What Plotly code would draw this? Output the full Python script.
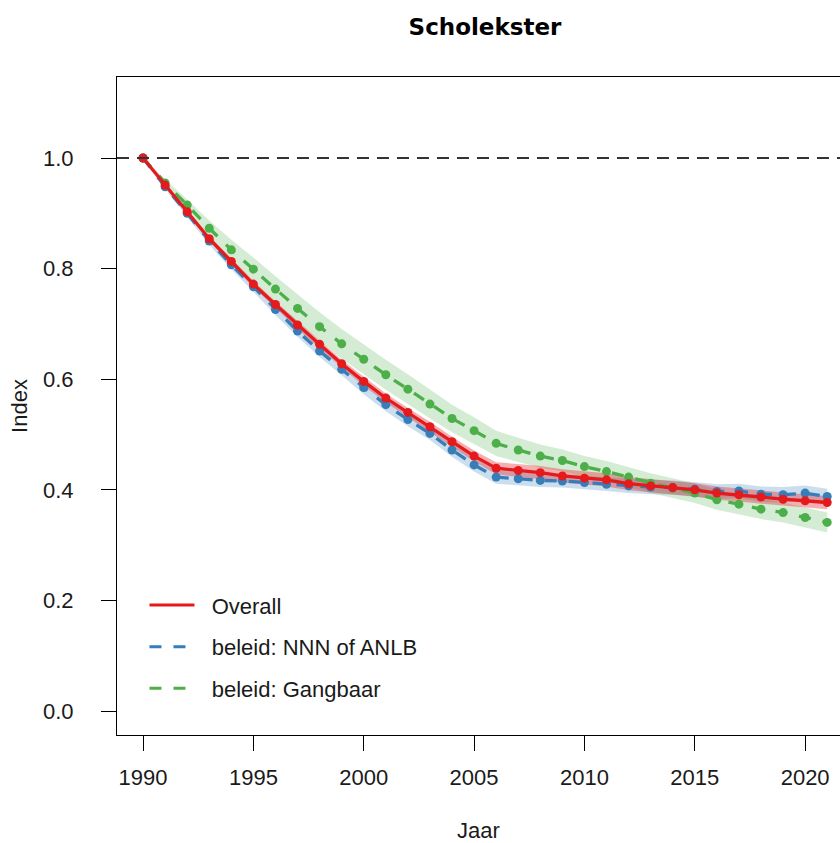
import plotly.graph_objects as go

years = list(range(1990, 2022))

overall = [1.000, 0.951, 0.903, 0.854, 0.813, 0.772, 0.735, 0.698, 0.663, 0.628,
           0.596, 0.566, 0.540, 0.514, 0.487, 0.461, 0.439, 0.435, 0.431, 0.425,
           0.421, 0.418, 0.411, 0.407, 0.404, 0.400, 0.394, 0.391, 0.387, 0.383,
           0.380, 0.377]
overall_ci = [0.000, 0.003, 0.004, 0.005, 0.005, 0.006, 0.006, 0.007, 0.007, 0.007,
              0.008, 0.008, 0.008, 0.009, 0.009, 0.010, 0.011, 0.011, 0.012, 0.012,
              0.012, 0.012, 0.012, 0.012, 0.012, 0.012, 0.012, 0.012, 0.012, 0.012,
              0.012, 0.012]

nnn = [1.000, 0.948, 0.900, 0.850, 0.807, 0.767, 0.726, 0.687, 0.651, 0.618,
       0.585, 0.554, 0.527, 0.502, 0.472, 0.445, 0.423, 0.420, 0.417, 0.416,
       0.413, 0.410, 0.407, 0.405, 0.404, 0.401, 0.397, 0.398, 0.392, 0.391,
       0.394, 0.388]
nnn_ci = [0.000, 0.004, 0.006, 0.007, 0.008, 0.009, 0.010, 0.010, 0.011, 0.011,
          0.012, 0.012, 0.012, 0.012, 0.012, 0.012, 0.012, 0.012, 0.012, 0.012,
          0.012, 0.012, 0.013, 0.013, 0.013, 0.013, 0.013, 0.013, 0.014, 0.014,
          0.014, 0.014]

gang = [1.000, 0.955, 0.915, 0.873, 0.834, 0.799, 0.763, 0.728, 0.695, 0.664,
        0.636, 0.608, 0.582, 0.555, 0.529, 0.507, 0.484, 0.472, 0.461, 0.453,
        0.442, 0.433, 0.423, 0.412, 0.403, 0.394, 0.382, 0.374, 0.365, 0.359,
        0.350, 0.341]
gang_ci = [0.000, 0.006, 0.010, 0.014, 0.018, 0.021, 0.023, 0.025, 0.026, 0.027,
           0.027, 0.027, 0.027, 0.026, 0.025, 0.024, 0.023, 0.022, 0.021, 0.020,
           0.019, 0.019, 0.018, 0.018, 0.018, 0.018, 0.018, 0.018, 0.018, 0.018,
           0.018, 0.018]

x_ticks = [1990, 1995, 2000, 2005, 2010, 2015, 2020]
y_ticks = [0.0, 0.2, 0.4, 0.6, 0.8, 1.0]

RED = "#E41A1C"
BLUE = "#377EB8"
GREEN = "#4DAF4A"

series = [
    ("beleid: Gangbaar", gang, gang_ci, GREEN, "rgba(77,175,74,0.24)", "12px,12px"),
    ("beleid: NNN of ANLB", nnn, nnn_ci, BLUE, "rgba(55,126,184,0.26)", "12px,12px"),
    ("Overall", overall, overall_ci, RED, "rgba(228,26,28,0.35)", "solid"),
]

fig = go.Figure()

# confidence bands
for name, vals, ci, col, fillcol, dash in series:
    lo = [v - c for v, c in zip(vals, ci)]
    hi = [v + c for v, c in zip(vals, ci)]
    fig.add_trace(go.Scatter(
        x=years + years[::-1], y=hi + lo[::-1], fill="toself",
        fillcolor=fillcol, line=dict(width=0), mode="lines",
        hoverinfo="skip", showlegend=False))

# lines with markers
for name, vals, ci, col, fillcol, dash in series:
    fig.add_trace(go.Scatter(
        x=years, y=vals, mode="lines+markers",
        line=dict(color=col, width=3.3, dash=dash),
        marker=dict(color=col, size=9),
        showlegend=False, name=name))

# legend entries (line only)
NB = "\u00a0" * 2
for i, (name, vals, ci, col, fillcol, dash) in enumerate(reversed(series)):
    fig.add_trace(go.Scatter(
        x=[None], y=[None], mode="lines", name=NB + name,
        line=dict(color=col, width=3, dash=dash),
        legendgroup=f"g{i}", showlegend=True))

# reference line at 1.0
fig.add_hline(y=1.0, line=dict(color="#333333", width=1.8, dash="12px,8px"))

fig.update_layout(
    width=840, height=843,
    margin=dict(l=117, r=0, t=77, b=108),
    paper_bgcolor="white", plot_bgcolor="white",
    font=dict(family="Liberation Sans, Arial, sans-serif", size=22, color="#1a1a1a"),
    title=dict(text="<b>Scholekster</b>", x=485 / 840, xanchor="center",
               y=1 - 27 / 843, yanchor="middle", yref="container",
               font=dict(family="DejaVu Sans, sans-serif", size=23, color="black")),
    legend=dict(x=0.038, xanchor="left", y=0.229, yanchor="top",
                bgcolor="rgba(0,0,0,0)", font=dict(size=22, color="#1a1a1a"),
                tracegroupgap=10, itemwidth=45),
    showlegend=True,
)

fig.update_xaxes(
    range=[1988.82, 2021.58], tickvals=x_ticks, ticktext=[str(t) for t in x_ticks],
    showgrid=False, zeroline=False, showline=True, linecolor="black", linewidth=1,
    mirror=True, ticks="outside", ticklen=15, tickcolor="black", tickwidth=1,
    ticklabelstandoff=8,
    title=dict(text="Jaar", standoff=34, font=dict(size=22)))

fig.update_yaxes(
    range=[-0.0434, 1.1465], tickvals=y_ticks, tickformat=".1f",
    showgrid=False, zeroline=False, showline=True, linecolor="black", linewidth=1,
    mirror=False, ticks="outside", ticklen=15, tickcolor="black", tickwidth=1,
    ticklabelstandoff=23,
    title=dict(text="Index", standoff=9, font=dict(size=22)))

fig.write_html("out.html")
